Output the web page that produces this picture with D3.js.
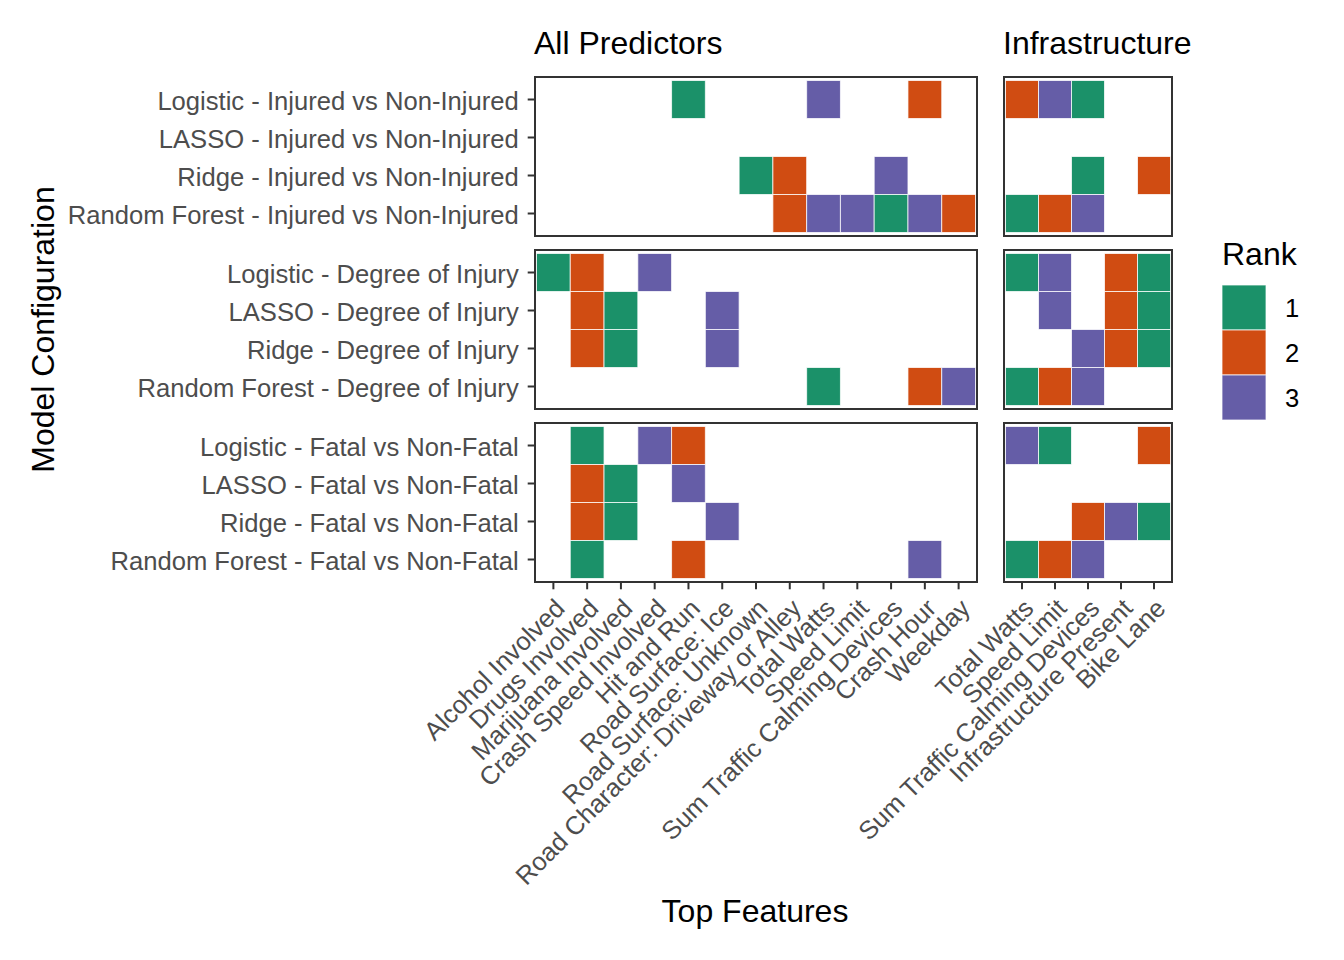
<!DOCTYPE html>
<html>
<head>
<meta charset="utf-8">
<script src="https://cdn.jsdelivr.net/npm/d3@7/dist/d3.min.js"></script>
<style>
  html, body { margin: 0; padding: 0; background: #fff; }
  svg { display: block; font-family: "Liberation Sans", Arial, Helvetica, sans-serif; }
</style>
</head>
<body>
<svg id="chart" width="1344" height="960"></svg>
<script>
// ---------------- DATA ----------------
const rowFacets = ["Injured vs Non-Injured", "Degree of Injury", "Fatal vs Non-Fatal"];
const models = ["Logistic", "LASSO", "Ridge", "Random Forest"];
const colFacets = ["All Predictors", "Infrastructure"];
const allFeatures = [
  "Alcohol Involved", "Drugs Involved", "Marijuana Involved", "Crash Speed Involved",
  "Hit and Run", "Road Surface: Ice", "Road Surface: Unknown",
  "Road Character: Driveway or Alley", "Total Watts", "Speed Limit",
  "Sum Traffic Calming Devices", "Crash Hour", "Weekday"
];
const infraFeatures = ["Total Watts", "Speed Limit", "Sum Traffic Calming Devices", "Infrastructure Present", "Bike Lane"];
const ranks = [1, 2, 3];
const rankColors = ["#1B9169", "#D04C12", "#655DA7"];

// [model, feature, rank]
const injuredAll = [
  ["Logistic", "Hit and Run", 1], ["Logistic", "Total Watts", 3], ["Logistic", "Crash Hour", 2],
  ["Ridge", "Road Surface: Unknown", 1], ["Ridge", "Road Character: Driveway or Alley", 2], ["Ridge", "Sum Traffic Calming Devices", 3],
  ["Random Forest", "Road Character: Driveway or Alley", 2], ["Random Forest", "Total Watts", 3], ["Random Forest", "Speed Limit", 3],
  ["Random Forest", "Sum Traffic Calming Devices", 1], ["Random Forest", "Crash Hour", 3], ["Random Forest", "Weekday", 2]
];
const degreeAll = [
  ["Logistic", "Alcohol Involved", 1], ["Logistic", "Drugs Involved", 2], ["Logistic", "Crash Speed Involved", 3],
  ["LASSO", "Drugs Involved", 2], ["LASSO", "Marijuana Involved", 1], ["LASSO", "Road Surface: Ice", 3],
  ["Ridge", "Drugs Involved", 2], ["Ridge", "Marijuana Involved", 1], ["Ridge", "Road Surface: Ice", 3],
  ["Random Forest", "Total Watts", 1], ["Random Forest", "Crash Hour", 2], ["Random Forest", "Weekday", 3]
];
const fatalAll = [
  ["Logistic", "Drugs Involved", 1], ["Logistic", "Crash Speed Involved", 3], ["Logistic", "Hit and Run", 2],
  ["LASSO", "Drugs Involved", 2], ["LASSO", "Marijuana Involved", 1], ["LASSO", "Hit and Run", 3],
  ["Ridge", "Drugs Involved", 2], ["Ridge", "Marijuana Involved", 1], ["Ridge", "Road Surface: Ice", 3],
  ["Random Forest", "Drugs Involved", 1], ["Random Forest", "Hit and Run", 2], ["Random Forest", "Crash Hour", 3]
];
const injuredInfra = [
  ["Logistic", "Total Watts", 2], ["Logistic", "Speed Limit", 3], ["Logistic", "Sum Traffic Calming Devices", 1],
  ["Ridge", "Sum Traffic Calming Devices", 1], ["Ridge", "Bike Lane", 2],
  ["Random Forest", "Total Watts", 1], ["Random Forest", "Speed Limit", 2], ["Random Forest", "Sum Traffic Calming Devices", 3]
];
const degreeInfra = [
  ["Logistic", "Total Watts", 1], ["Logistic", "Speed Limit", 3], ["Logistic", "Infrastructure Present", 2], ["Logistic", "Bike Lane", 1],
  ["LASSO", "Speed Limit", 3], ["LASSO", "Infrastructure Present", 2], ["LASSO", "Bike Lane", 1],
  ["Ridge", "Sum Traffic Calming Devices", 3], ["Ridge", "Infrastructure Present", 2], ["Ridge", "Bike Lane", 1],
  ["Random Forest", "Total Watts", 1], ["Random Forest", "Speed Limit", 2], ["Random Forest", "Sum Traffic Calming Devices", 3]
];
const fatalInfra = [
  ["Logistic", "Total Watts", 3], ["Logistic", "Speed Limit", 1], ["Logistic", "Bike Lane", 2],
  ["Ridge", "Sum Traffic Calming Devices", 2], ["Ridge", "Infrastructure Present", 3], ["Ridge", "Bike Lane", 1],
  ["Random Forest", "Total Watts", 1], ["Random Forest", "Speed Limit", 2], ["Random Forest", "Sum Traffic Calming Devices", 3]
];

const cells = [
  [injuredAll, injuredInfra],
  [degreeAll, degreeInfra],
  [fatalAll, fatalInfra]
];
const xTitle = "Top Features";
const yTitle = "Model Configuration";
const legendTitle = "Rank";

// ---------------- LAYOUT ----------------
const svg = d3.select("#chart");
const FONT_TICK = 25.6, FONT_TITLE = 32;
const TEXT_GREY = "#4D4D4D", LINE = "#333333";
const FAM = '"Liberation Sans", Arial, Helvetica, sans-serif';

const colFrames = [[535, 977], [1004, 1172]];
const rowFrames = [[77, 236], [250, 409], [423, 582]];
const xInset = 1.5, yInset = 3.5;

const color = d3.scaleOrdinal().domain(ranks).range(rankColors);

const xScales = [
  d3.scaleBand().domain(allFeatures).range([colFrames[0][0] + xInset, colFrames[0][1] - xInset]),
  d3.scaleBand().domain(infraFeatures).range([colFrames[1][0] + xInset, colFrames[1][1] - xInset])
];
const yScales = rowFrames.map(f => d3.scaleBand().domain(models).range([f[0] + yInset, f[1] - yInset]));

// tiles
rowFacets.forEach((rf, ri) => {
  colFacets.forEach((cf, ci) => {
    const x = xScales[ci], y = yScales[ri];
    const g = svg.append("g");
    g.selectAll("rect").data(cells[ri][ci]).join("rect")
      .attr("x", d => x(d[1]))
      .attr("y", d => y(d[0]))
      .attr("width", x.bandwidth())
      .attr("height", y.bandwidth())
      .attr("fill", d => color(d[2]))
      .attr("stroke", "#ffffff")
      .attr("stroke-opacity", 0.75)
      .attr("stroke-width", 1);
    // panel border
    svg.append("rect")
      .attr("x", colFrames[ci][0]).attr("y", rowFrames[ri][0])
      .attr("width", colFrames[ci][1] - colFrames[ci][0])
      .attr("height", rowFrames[ri][1] - rowFrames[ri][0])
      .attr("fill", "none").attr("stroke", LINE).attr("stroke-width", 2);
  });
});

// y axes
rowFacets.forEach((rf, ri) => {
  const ax = d3.axisLeft(yScales[ri]).tickSize(7.3).tickPadding(9)
    .tickFormat(m => `${m} - ${rf}`);
  const g = svg.append("g").attr("transform", `translate(${colFrames[0][0]},0)`).call(ax);
  g.select(".domain").remove();
  g.selectAll(".tick line").attr("stroke", LINE).attr("stroke-width", 2);
  g.selectAll(".tick text").attr("fill", TEXT_GREY)
    .attr("dy", "0.40em")
    .style("font-size", FONT_TICK + "px")
    .style("font-family", FAM);
});

// x axes
colFacets.forEach((cf, ci) => {
  const ax = d3.axisBottom(xScales[ci]).tickSize(7.3);
  const bottom = rowFrames[2][1];
  const g = svg.append("g").attr("transform", `translate(0,${bottom})`).call(ax);
  g.select(".domain").remove();
  g.selectAll(".tick line").attr("stroke", LINE).attr("stroke-width", 2);
  g.selectAll(".tick text")
    .attr("fill", TEXT_GREY)
    .style("font-size", FONT_TICK + "px")
    .style("font-family", FAM)
    .attr("text-anchor", "end")
    .attr("x", 0).attr("y", 0)
    .attr("dy", "0.72em")
    .attr("transform", `translate(0,${7.3 + 7.5}) rotate(-45)`);
  // strip label
  svg.append("text")
    .attr("x", colFrames[ci][0] - 1).attr("y", 54)
    .attr("fill", "#000").style("font-size", FONT_TITLE + "px")
    .text(cf);
});

// axis titles
svg.append("text")
  .attr("x", 755).attr("y", 922)
  .attr("text-anchor", "middle")
  .attr("fill", "#000").style("font-size", FONT_TITLE + "px")
  .text(xTitle);
svg.append("text")
  .attr("transform", `translate(54,${(rowFrames[0][0] + rowFrames[2][1]) / 2}) rotate(-90)`)
  .attr("text-anchor", "middle")
  .attr("fill", "#000").style("font-size", FONT_TITLE + "px")
  .text(yTitle);

// legend
const lg = svg.append("g").attr("transform", "translate(1222,0)");
lg.append("text").attr("x", 0).attr("y", 265)
  .attr("fill", "#000").style("font-size", FONT_TITLE + "px").text(legendTitle);
const keyY = d3.scaleBand().domain(ranks).range([285, 420]);
lg.selectAll("rect.key").data(ranks).join("rect")
  .attr("class", "key")
  .attr("x", 0).attr("y", d => keyY(d))
  .attr("width", 44).attr("height", keyY.bandwidth())
  .attr("fill", d => color(d))
  .attr("stroke", "#ffffff").attr("stroke-opacity", 0.75).attr("stroke-width", 1);
lg.selectAll("text.lab").data(ranks).join("text")
  .attr("class", "lab")
  .attr("x", 63).attr("y", d => keyY(d) + keyY.bandwidth() / 2)
  .attr("dy", "0.38em")
  .attr("fill", "#000").style("font-size", FONT_TICK + "px")
  .text(d => d);
</script>
</body>
</html>
